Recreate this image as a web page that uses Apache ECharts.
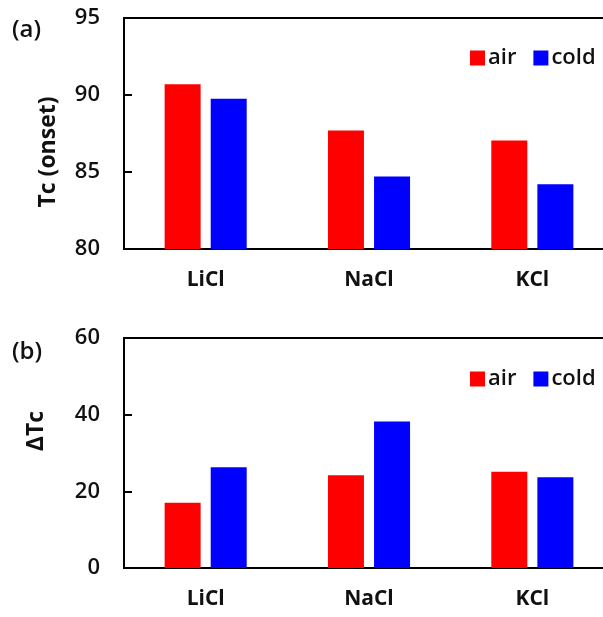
<!DOCTYPE html>
<html>
<head>
<meta charset="utf-8">
<script src="https://cdn.jsdelivr.net/npm/echarts@6/dist/echarts.min.js"></script>
<style>html,body{margin:0;padding:0;background:#fff}#c{width:603px;height:617px}</style>
</head>
<body>
<div id="c"></div>
<script>
var categories = ['LiCl', 'NaCl', 'KCl'];
var tcAir = [90.7, 87.7, 87.05];
var tcCold = [89.75, 84.7, 84.2];
var dtcAir = [17.0, 24.2, 25.1];
var dtcCold = [26.3, 38.2, 23.7];
var seriesNames = ['air', 'cold'];
var colors = ['#ff0000', '#0000ff'];

var FONT = '"Open Sans", "Noto Sans", sans-serif';
var chart = echarts.init(document.getElementById('c'), null, {renderer: 'canvas'});

function xAxis(gi) {
  return {
    type: 'category', gridIndex: gi, data: categories,
    axisLine: {lineStyle: {color: '#000', width: 2}},
    axisTick: {show: false},
    axisLabel: {color: '#111', fontSize: 21, fontWeight: 'bold', fontFamily: FONT, margin: 21}
  };
}
function yAxis(gi, min, max, interval) {
  return {
    type: 'value', gridIndex: gi, min: min, max: max, interval: interval,
    axisLine: {show: true, lineStyle: {color: '#000', width: 2}},
    axisTick: {show: true, inside: true, length: 8, lineStyle: {color: '#000', width: 2}},
    splitLine: {show: false},
    axisLabel: {color: '#111', fontSize: 22, fontFamily: FONT, fontWeight: 600, margin: 24}
  };
}
function bar(name, data, idx, color) {
  return {
    type: 'bar', name: name, data: data, xAxisIndex: idx, yAxisIndex: idx,
    barWidth: 36, barGap: '28%',
    itemStyle: {color: color}
  };
}
function legend(top) {
  return {
    data: seriesNames, left: 465, top: top, itemWidth: 15, itemHeight: 15, itemGap: 17,
    icon: 'rect',
    textStyle: {fontSize: 22, fontWeight: 600, fontFamily: FONT, color: '#111', padding: [0,0,0,-2]}
  };
}

chart.setOption({
  animation: false,
  backgroundColor: '#fff',
  grid: [
    {left: 124, top: 18, width: 490, height: 231, show: true, borderColor: '#000', borderWidth: 2, outerBoundsMode: 'none', containLabel: false},
    {left: 124, top: 338, width: 490, height: 230, show: true, borderColor: '#000', borderWidth: 2, outerBoundsMode: 'none', containLabel: false}
  ],
  xAxis: [xAxis(0), xAxis(1)],
  yAxis: [yAxis(0, 80, 95, 5), yAxis(1, 0, 60, 20)],
  legend: [legend(42), legend(363)],
  series: [
    bar(seriesNames[0], tcAir, 0, colors[0]),
    bar(seriesNames[1], tcCold, 0, colors[1]),
    bar(seriesNames[0], dtcAir, 1, colors[0]),
    bar(seriesNames[1], dtcCold, 1, colors[1])
  ],
  graphic: [
    {type: 'text', left: 12, top: 18, style: {text: '(a)', fontSize: 24, fontWeight: 600, fontFamily: FONT, fill: '#111'}},
    {type: 'text', left: 12, top: 340, style: {text: '(b)', fontSize: 24, fontWeight: 600, fontFamily: FONT, fill: '#111'}},
    {type: 'text', x: 48, y: 152, rotation: Math.PI / 2,
      style: {text: 'Tc (onset)', fontSize: 23, fontWeight: 'bold', fontFamily: FONT, fill: '#111', align: 'center', verticalAlign: 'middle'}},
    {type: 'text', x: 36, y: 431, rotation: Math.PI / 2,
      style: {text: 'ΔTc', fontSize: 23, fontWeight: 'bold', fontFamily: FONT, fill: '#111', align: 'center', verticalAlign: 'middle'}}
  ]
});
</script>
</body>
</html>
